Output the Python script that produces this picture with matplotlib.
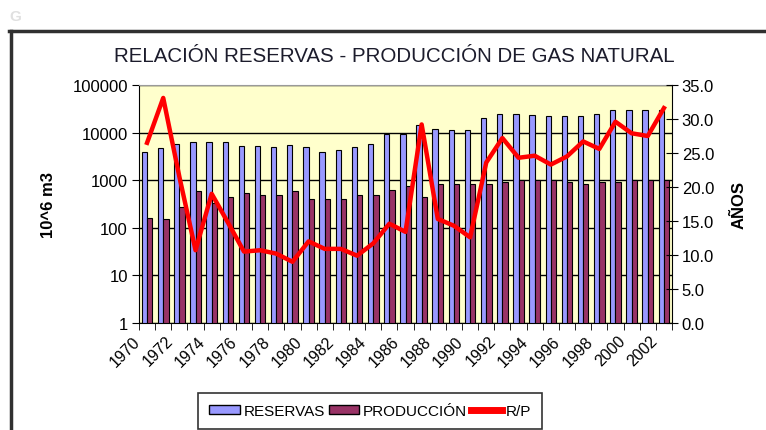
import numpy as np
import matplotlib
matplotlib.use("Agg")
import matplotlib.pyplot as plt
import matplotlib.transforms as mtransforms
from matplotlib.patches import Patch
from matplotlib.lines import Line2D
from matplotlib.ticker import NullLocator, FuncFormatter

plt.rcParams['font.family'] = ['Liberation Sans', 'DejaVu Sans']

years = list(range(1970, 2003))
reservas = [3900, 4750, 5700, 6350, 6350, 6350, 5250, 5250, 4950, 5500,
            4950, 3900, 4250, 4950, 5700, 9500, 9500, 14200, 12100, 11200,
            11200, 20200, 25000, 25000, 23000, 22000, 22000, 22000, 24200, 29400,
            29400, 29400, 29400]
produccion = [163, 151, 270, 589, 335, 448, 530, 483, 483, 589,
              403, 403, 403, 483, 483, 632, 738, 448, 834, 834,
              834, 834, 927, 1000, 1000, 1000, 927, 850, 927, 927,
              1000, 1000, 1000]
rp = [26.5, 33.1, 21.5, 10.7, 19.0, 14.8, 10.5, 10.7, 10.2, 9.0,
      12.0, 10.9, 10.9, 9.9, 11.7, 14.6, 13.4, 29.2, 15.3, 14.3,
      12.6, 23.6, 27.2, 24.3, 24.6, 23.3, 24.5, 26.7, 25.6, 29.6,
      27.9, 27.5, 31.6]

c_res = '#9999FF'
c_prod = '#993366'

fig = plt.figure(figsize=(7.66, 4.31), dpi=100)
ax = fig.add_axes([139/766, 1-324/431, 533/766, 238/431])
x = np.arange(len(years))

ax.set_facecolor('#FFFFCC')
ax.bar(x - 0.165, reservas, width=0.33, color=c_res, edgecolor='black', linewidth=0.8)
ax.bar(x + 0.165, produccion, width=0.33, color=c_prod, edgecolor='black', linewidth=0.8)
ax.set_yscale('log')
ax.set_ylim(1, 100000)
ax.set_xlim(-0.5, len(years) - 0.5)
ax.set_yticks([1, 10, 100, 1000, 10000, 100000])
ax.yaxis.set_minor_locator(NullLocator())
ax.yaxis.set_major_formatter(FuncFormatter(lambda v, p: '%d' % v))
ax.yaxis.grid(True, color='black', linewidth=1)
ax.set_axisbelow(True)
ax.tick_params(axis='y', direction='out', length=5, labelsize=12, pad=3)

ax.set_xticks(x[::2])
ax.set_xticklabels([str(y) for y in years[::2]])
ax.set_xticks(np.arange(-0.5, len(years), 1), minor=True)
ax.tick_params(axis='x', which='major', length=0, labelsize=11.5, pad=11)
ax.tick_params(axis='x', which='minor', length=5, direction='out')
off = mtransforms.ScaledTranslation(-9/100, 0, fig.dpi_scale_trans)
for lab in ax.get_xticklabels():
    lab.set_rotation(45)
    lab.set_ha('right')
    lab.set_va('center')
    lab.set_rotation_mode('anchor')
    lab.set_transform(lab.get_transform() + off)

ax.spines['top'].set_color('#999999')
ax.spines['right'].set_visible(False)
ax.set_ylabel('10^6 m3', fontsize=12, fontweight='bold')
ax.yaxis.set_label_coords(-0.155, 0.5)

ax2 = ax.twinx()
ax2.plot(x, rp, color='#FF0000', linewidth=3.2)
ax2.set_ylim(0, 35)
ax2.set_yticks(np.arange(0, 36, 5))
ax2.yaxis.set_major_formatter(FuncFormatter(lambda v, p: '%.1f' % v))
ax2.tick_params(axis='y', direction='inout', length=8, labelsize=12, pad=3)
for s in ['top', 'left', 'bottom']:
    ax2.spines[s].set_visible(False)
ax2.spines['right'].set_color('black')
ax2.set_ylabel('AÑOS', fontsize=12, fontweight='bold')
ax2.yaxis.set_label_coords(1.1126, 0.5)

fig.text(394/766, 1-56/431, 'RELACIÓN RESERVAS - PRODUCCIÓN DE GAS NATURAL',
         ha='center', va='center', fontsize=14.8, color='#1c1c2c')

handles = [Patch(facecolor=c_res, edgecolor='black'),
           Patch(facecolor=c_prod, edgecolor='black'),
           Line2D([0], [0], color='#FF0000', linewidth=5)]
leg = fig.legend(handles, ['RESERVAS', 'PRODUCCIÓN', 'R/P'], ncol=3,
                 loc='center', bbox_to_anchor=(370/766, 1-412/431),
                 fontsize=11, frameon=True, fancybox=False, edgecolor='black',
                 handlelength=2.0, handleheight=0.55, handletextpad=0.25,
                 columnspacing=0.25, borderpad=0.75, borderaxespad=0)
leg.get_frame().set_linewidth(1.2)

# outer frame and corner mark
fig.add_artist(Line2D([9/766, 1], [1-32/431, 1-32/431], transform=fig.transFigure,
                      color='#303030', linewidth=2.5))
fig.add_artist(Line2D([11/766, 11/766], [0, 1-32/431], transform=fig.transFigure,
                      color='#303030', linewidth=2.5))
fig.text(15/766, 1-17/431, 'G', color='#e0e0e0', fontsize=11, fontweight='bold',
         ha='center', va='center')

fig.savefig('out.png', dpi=100)
